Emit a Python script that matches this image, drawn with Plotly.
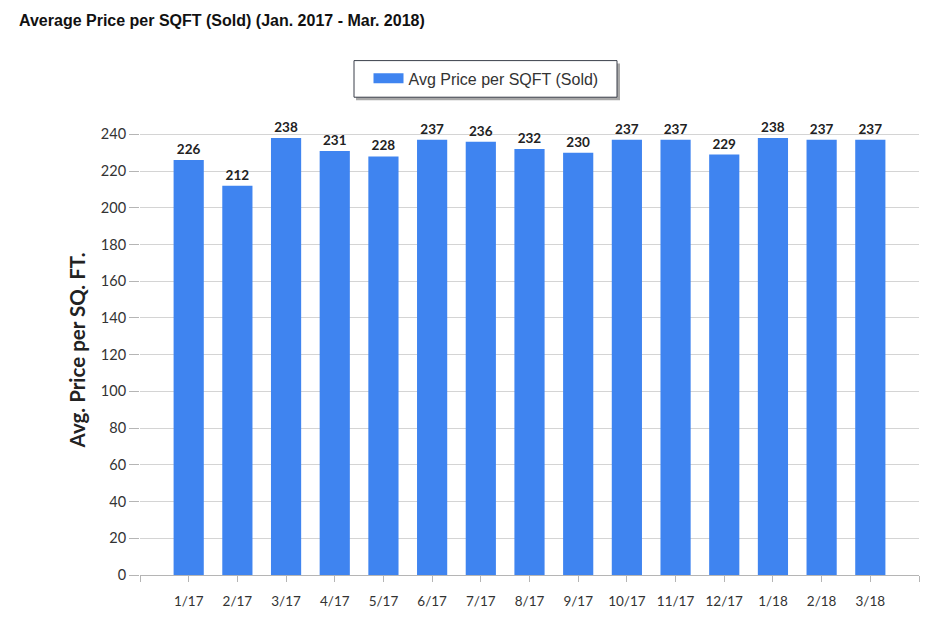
import plotly.graph_objects as go

categories = ["1/17", "2/17", "3/17", "4/17", "5/17", "6/17", "7/17", "8/17",
              "9/17", "10/17", "11/17", "12/17", "1/18", "2/18", "3/18"]
values = [226, 212, 238, 231, 228, 237, 236, 232, 230, 237, 237, 229, 238, 237, 237]
y_ticks = list(range(0, 241, 20))
series_name = "Avg Price per SQFT (Sold)"
chart_title = "Average Price per SQFT (Sold) (Jan. 2017 - Mar. 2018)"
y_title = "Avg. Price per SQ. FT."

BAR_COLOR = "#3F84F0"
idx = list(range(len(categories)))

# page body has an 8px margin, so the figure is 8px smaller than the window
W, H = 926, 613
L, R, T, B = 132, 15, 108, 41
PW, PH = W - L - R, H - T - B


def px_x(wx):  # window px -> paper x
    return (wx - 8 - L) / PW


def px_y(wy):  # window px -> paper y
    return (H - B - (wy - 8)) / PH


fig = go.Figure()
fig.add_trace(go.Bar(
    x=idx, y=values, name=series_name,
    marker=dict(color=BAR_COLOR, line=dict(width=0)),
    width=0.62,
    text=[str(v) for v in values], textposition="outside",
    textfont=dict(family="Lato", size=13.5, color="#222222", weight="bold"),
    cliponaxis=False, showlegend=False,
))
# legend entry with a wide rectangular swatch
fig.add_trace(go.Scatter(
    x=[None], y=[None], mode="lines", name=series_name,
    line=dict(color=BAR_COLOR, width=14), showlegend=True, hoverinfo="skip",
))

# legend frame with a soft shadow
fig.add_shape(type="rect", xref="paper", yref="paper",
              x0=px_x(356), x1=px_x(620), y0=px_y(100), y1=px_y(63),
              fillcolor="#a8a8a8", line=dict(width=0), layer="above")
fig.add_shape(type="rect", xref="paper", yref="paper",
              x0=px_x(354), x1=px_x(617), y0=px_y(97), y1=px_y(60),
              fillcolor="white", line=dict(color="#3a3f4a", width=1), layer="above")

fig.update_layout(
    width=W, height=H,
    margin=dict(l=L, r=R, t=T, b=B),
    paper_bgcolor="white", plot_bgcolor="white",
    title=dict(text=chart_title, x=11/W, xanchor="left", xref="container",
               y=1-7/H, yanchor="top", yref="container",
               font=dict(family="Liberation Sans", size=16, color="#111111", weight="bold")),
    legend=dict(x=px_x(486), xanchor="center", y=px_y(78), yanchor="middle",
                borderwidth=0, bgcolor="rgba(0,0,0,0)",
                font=dict(family="Liberation Sans", size=16, color="#333333")),
    showlegend=True,
)
fig.layout.xaxis.update(
    range=[-1, len(categories)], tickmode="array",
    tickvals=[-1] + idx + [len(categories)],
    ticktext=[""] + categories + [""],
    showgrid=False, zeroline=False, showline=True, linecolor="#b5b5b5", linewidth=1,
    ticks="outside", ticklen=6, tickcolor="#b5b5b5", ticklabelstandoff=8,
    tickfont=dict(family="Lato", size=13.5, color="#333333"),
)
fig.layout.yaxis.update(
    range=[0, 250], tickmode="array", tickvals=y_ticks,
    showgrid=True, gridcolor="#d4d4d4", gridwidth=1, zeroline=False,
    showline=False, ticks="outside", ticklen=10, tickcolor="#b5b5b5",
    tickfont=dict(family="Lato", size=14.5, color="#333333"),
)
fig.add_annotation(
    text=y_title, textangle=-90, xref="paper", yref="paper",
    x=px_x(77), y=px_y(353), xanchor="center", yanchor="middle",
    showarrow=False,
    font=dict(family="Lato", size=20.5, color="#222222", weight="bold"),
)

fig.write_html("out.html")
